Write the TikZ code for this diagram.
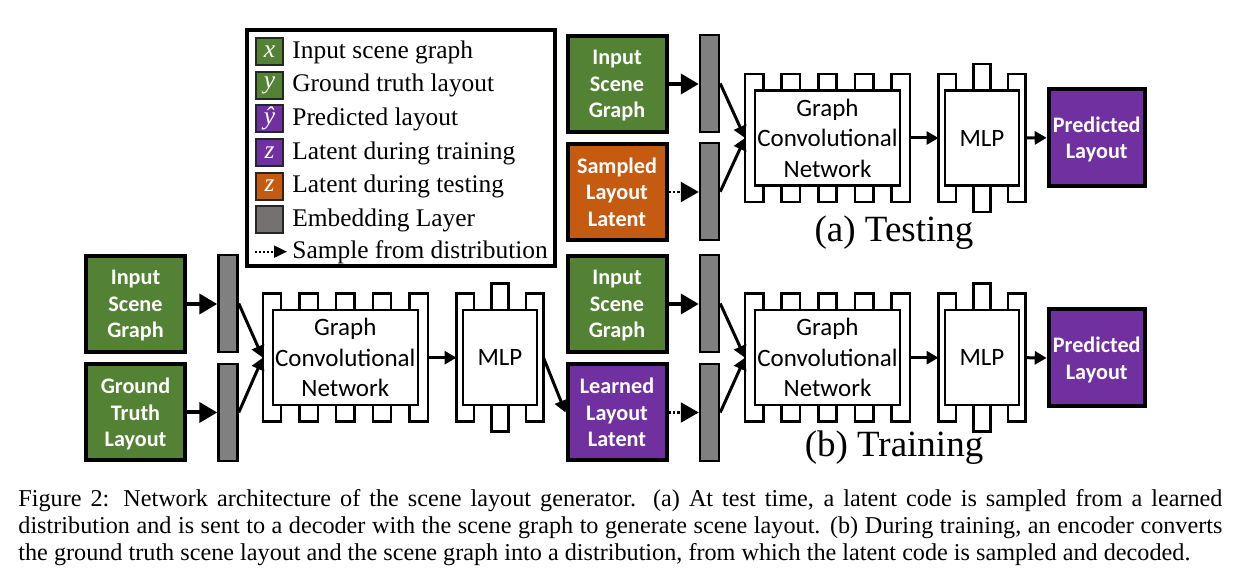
\documentclass[tikz,border=0pt]{standalone}
\usepackage{fontspec}
\setmainfont{Liberation Serif}
\newfontfamily\carlito{Carlito}
\usepackage{xcolor}
\usetikzlibrary{arrows.meta,positioning}
\definecolor{layGreen}{RGB}{84,130,53}
\definecolor{layOrange}{RGB}{197,90,17}
\definecolor{layPurple}{RGB}{112,48,160}
\definecolor{layBar}{RGB}{128,128,128}
\definecolor{layGray}{RGB}{118,113,113}
\definecolor{layEdge}{RGB}{38,38,38}

% comb frame round a graph convolution block: name, x, y
\newcommand{\gcnframe}[3]{%
  \draw[framepath] ({#2-82.5},{#3+64}) -- ++(0,-128)
    \foreach \k in {1,...,4}{ -- ++(18.33,0) -- ++(0,16.5) -- ++(18.33,0) -- ++(0,-16.5) }
    -- ++(18.33,0) -- ++(0,128)
    \foreach \k in {1,...,4}{ -- ++(-18.33,0) -- ++(0,-16.5) -- ++(-18.33,0) -- ++(0,16.5) }
    -- cycle;
  \coordinate (#1-in) at ({#2-82.5},#3);
  \coordinate (#1-out) at ({#2+82.5},#3);
}
% frame round an MLP block: name, x, y
\newcommand{\mlpframe}[3]{%
  \draw[framepath] ({#2-43.5},{#3+64}) -- ++(0,-128)
    -- ++(17.4,0) -- ++(0,16.5) -- ++(17.4,0) -- ++(0,-26.5) -- ++(17.4,0)
    -- ++(0,26.5) -- ++(17.4,0) -- ++(0,-16.5) -- ++(17.4,0) -- ++(0,128)
    -- ++(-17.4,0) -- ++(0,-16.5) -- ++(-17.4,0) -- ++(0,26.5) -- ++(-17.4,0)
    -- ++(0,-26.5) -- ++(-17.4,0) -- ++(0,16.5) -- cycle;
  \coordinate (#1-in) at ({#2-43.5},#3);
  \coordinate (#1-out) at ({#2+43.5},#3);
}

\tikzset{
  blockbox/.style={draw=black, line width=2pt, text=white, align=center, inner sep=0pt,
    minimum width=49.5pt, minimum height=48pt, text depth=-1pt,
    font=\carlito\bfseries\fontsize{11.1}{13.3}\selectfont},
  embbar/.style={draw=black, line width=1.25pt, fill=layBar, inner sep=0pt,
    minimum width=9.5pt, minimum height=48.5pt},
  framepath/.style={draw=black, line width=1.25pt, fill=white},
  gcnbox/.style={draw=black, line width=1.25pt, fill=white, align=center, inner sep=0pt,
    minimum width=72.5pt, minimum height=47.5pt,
    font=\carlito\fontsize{12.5}{15.25}\selectfont},
  mlpbox/.style={gcnbox, minimum width=37pt},
  feedarrow/.style={line width=2pt, -{Triangle[length=9pt,width=10pt]}},
  samplearrow/.style={line width=1.2pt, dash pattern={on 1.1pt off 1.1pt}, -{Triangle[length=9pt,width=10pt]}},
  mergearrow/.style={line width=1.5pt, -{Triangle[length=6pt,width=6.5pt]}},
  swatch/.style={draw=layEdge, line width=1pt, text=white, inner sep=0pt,
    minimum width=13.5pt, minimum height=13.5pt,
    font=\itshape\fontsize{12.7}{15}\selectfont},
  legtext/.style={anchor=base west, inner sep=0pt, font=\fontsize{12.7}{15}\selectfont},
  panellabel/.style={anchor=base, inner sep=0pt, font=\fontsize{18.5}{22}\selectfont}
}

\begin{document}
\begin{tikzpicture}[x=0.5pt,y=-0.5pt]

    % page
    \fill[white] (0,0) rectangle (1239,576);
    \useasboundingbox (0,0) rectangle (1239,576);

    % legend
    \draw[line width=2pt] (247,29.8) rectangle (554.7,265.9);
    \node[swatch, fill=layGreen] (sw1) at (269.5,51.7) {x};
    \node[swatch, fill=layGreen] (sw2) at (269.5,85.3) {y};
    \node[swatch, fill=layPurple] (sw3) at (269.5,118.9) {ŷ};
    \node[swatch, fill=layPurple] (sw4) at (269.5,152.5) {z};
    \node[swatch, fill=layOrange] (sw5) at (269.5,186.1) {z};
    \node[swatch, fill=layGray] (sw6) at (269.5,219.7) {};
    \node[legtext] (leg1) at (292,58.4) {Input scene graph};
    \node[legtext] (leg2) at (292,92.0) {Ground truth layout};
    \node[legtext] (leg3) at (292,125.6) {Predicted layout};
    \node[legtext] (leg4) at (292,159.2) {Latent during training};
    \node[legtext] (leg5) at (292,192.8) {Latent during testing};
    \node[legtext] (leg6) at (292,226.4) {Embedding Layer};
    \node[legtext] (leg7) at (292,258.2) {Sample from distribution};
    \coordinate (legdot) at (255,251.7);
    \draw[line width=1pt, dash pattern={on 1pt off 1pt}, -{Triangle[length=6.5pt,width=6pt]}, shorten >=2.5pt]
        (legdot) -- (legdot -| leg7.west);

    % encoder (left)
    \node[blockbox, fill=layGreen] (inL) at (135.5,304) {Input\\Scene\\Graph};
    \node[blockbox, fill=layGreen] (gtL) at (135.5,412.5) {Ground\\Truth\\Layout};
    \node[embbar] (barL1) at (228,303.5) {};
    \node[embbar] (barL2) at (228,412.5) {};
    \gcnframe{gcnLf}{345.3}{357.7}
    \node[gcnbox] (gcnL) at (345.3,357.7) {Graph\\Convolutional\\Network};
    \mlpframe{mlpLf}{500}{357.7}
    \node[mlpbox] (mlpL) at (500,357.7) {MLP};

    \draw[feedarrow] (inL.east) -- (inL.east -| barL1.west);
    \draw[feedarrow] (gtL.east) -- (gtL.east -| barL2.west);
    \draw[mergearrow] (barL1.east) -- (gcnLf-in);
    \draw[mergearrow] (barL2.east) -- (gcnLf-in);
    \draw[mergearrow] (gcnLf-out) -- (mlpLf-in);

    % (a) testing
    \node[blockbox, fill=layGreen] (inT) at (617,84) {Input\\Scene\\Graph};
    \node[blockbox, fill=layOrange] (smpT) at (617,192) {Sampled\\Layout\\Latent};
    \node[embbar] (barT1) at (709.5,83.5) {};
    \node[embbar] (barT2) at (709.5,191.7) {};
    \gcnframe{gcnTf}{827.5}{138}
    \node[gcnbox] (gcnT) at (827.5,138) {Graph\\Convolutional\\Network};
    \mlpframe{mlpTf}{982}{138}
    \node[mlpbox] (mlpT) at (982,138) {MLP};
    \node[blockbox, fill=layPurple, minimum width=48pt, minimum height=48.5pt] (predT) at (1096.7,137.8) {Predicted\\Layout};
    \node[panellabel] (labT) at (894,241.7) {(a) Testing};

    \draw[feedarrow] (inT.east) -- (inT.east -| barT1.west);
    \draw[samplearrow] (smpT.east) -- (smpT.east -| barT2.west);
    \draw[mergearrow] (barT1.east) -- (gcnTf-in);
    \draw[mergearrow] (barT2.east) -- (gcnTf-in);
    \draw[mergearrow] (gcnTf-out) -- (mlpTf-in);
    \draw[mergearrow] (mlpTf-out) -- (predT.west);

    % (b) training
    \node[blockbox, fill=layGreen] (inTr) at (617,304) {Input\\Scene\\Graph};
    \node[blockbox, fill=layPurple] (lrnTr) at (617,412.5) {Learned\\Layout\\Latent};
    \node[embbar] (barTr1) at (709.5,303.5) {};
    \node[embbar] (barTr2) at (709.5,412.5) {};
    \gcnframe{gcnTrf}{827.5}{357.7}
    \node[gcnbox] (gcnTr) at (827.5,357.7) {Graph\\Convolutional\\Network};
    \mlpframe{mlpTrf}{982}{357.7}
    \node[mlpbox] (mlpTr) at (982,357.7) {MLP};
    \node[blockbox, fill=layPurple, minimum width=48pt, minimum height=48.5pt] (predTr) at (1096.7,358) {Predicted\\Layout};
    \node[panellabel] (labTr) at (894,456.7) {(b) Training};

    \draw[mergearrow] (mlpLf-out) -- (lrnTr.west);
    \draw[feedarrow] (inTr.east) -- (inTr.east -| barTr1.west);
    \draw[samplearrow] (lrnTr.east) -- (lrnTr.east -| barTr2.west);
    \draw[mergearrow] (barTr1.east) -- (gcnTrf-in);
    \draw[mergearrow] (barTr2.east) -- (gcnTrf-in);
    \draw[mergearrow] (gcnTrf-out) -- (mlpTrf-in);
    \draw[mergearrow] (mlpTrf-out) -- (predTr.west);

    % caption
    \node[anchor=north west, inner sep=0pt, text width=602pt, align=justify,
          font=\fontsize{12.1}{13.5}\selectfont] (caption) at (18,489)
        {Figure 2: Network architecture of the scene layout generator. (a) At test time, a latent code is sampled from a learned\linebreak
         distribution and is sent to a decoder with the scene graph to generate scene layout. (b) During training, an encoder converts\linebreak
         the ground truth scene layout and the scene graph into a distribution, from which the latent code is sampled and decoded.};

\end{tikzpicture}
\end{document}
